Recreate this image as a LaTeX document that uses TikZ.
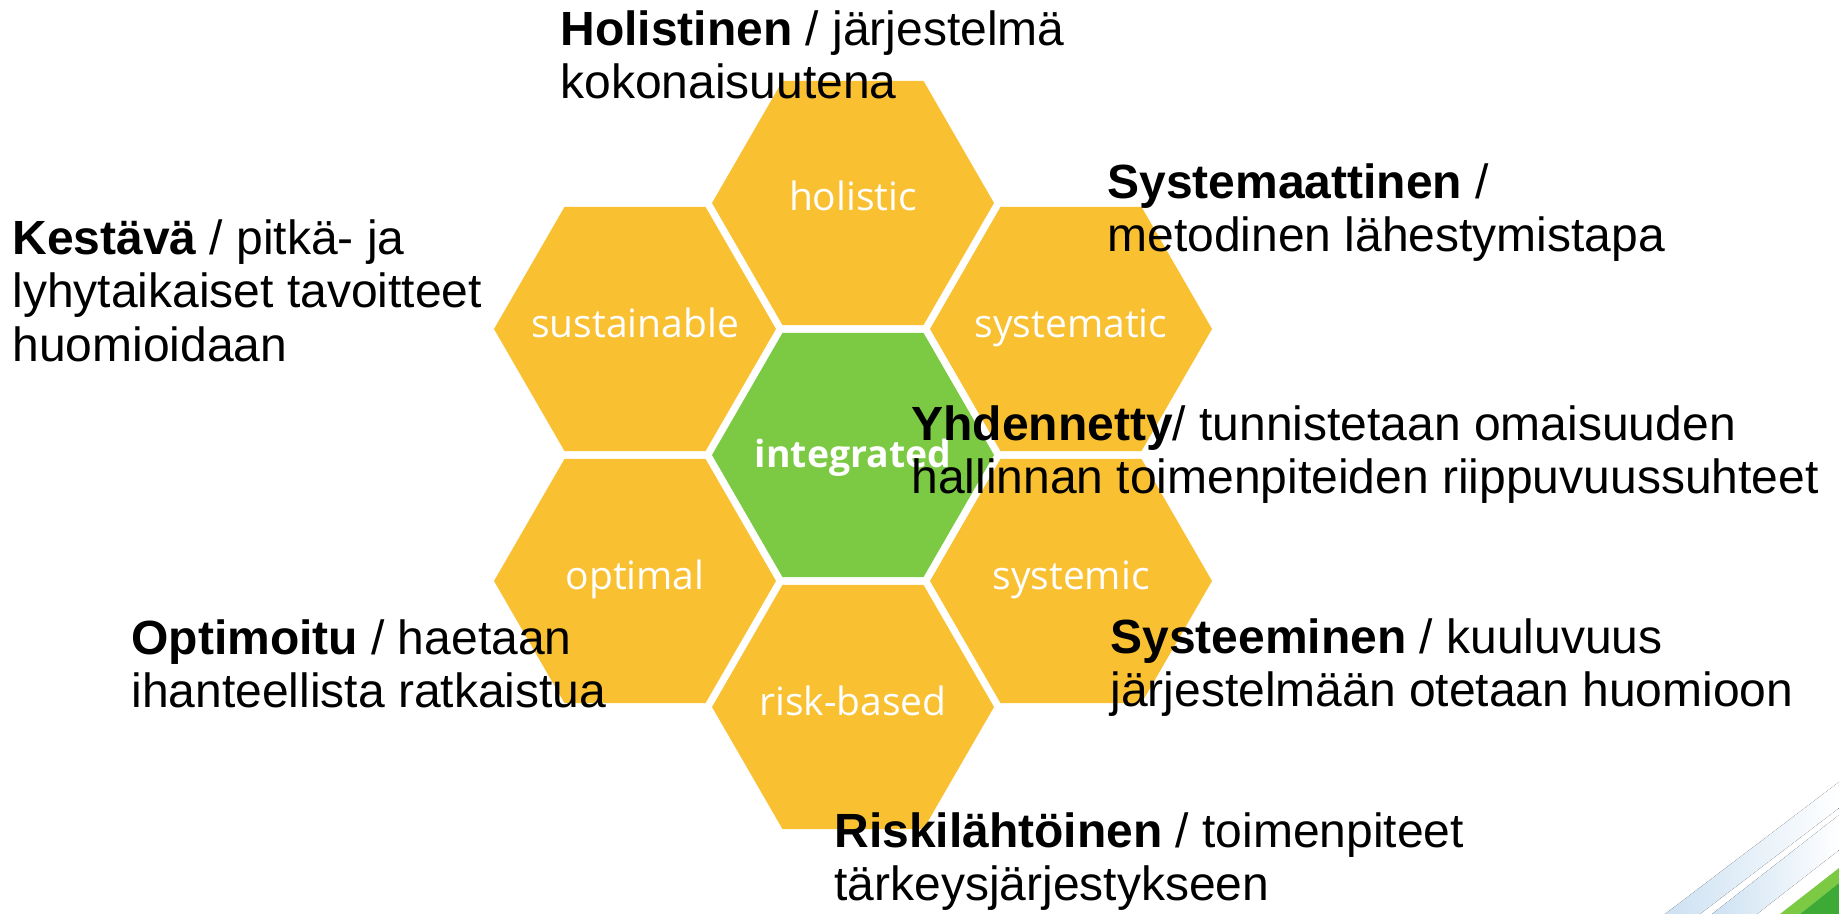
\documentclass[tikz,border=0pt]{standalone}
\usepackage{fontspec}
\setmainfont{Liberation Sans}
\newfontfamily\hexfont{Open Sans}
\usetikzlibrary{shapes.geometric}

\definecolor{honey}{RGB}{249,192,50}
\definecolor{leaf}{RGB}{124,201,68}
\definecolor{leafdark}{RGB}{61,170,53}
\definecolor{mist}{RGB}{205,225,242}

\tikzset{
  hexbox/.style={regular polygon, regular polygon sides=6, minimum size=141pt,
    inner sep=0pt, outer sep=0pt, fill=honey},
  corebox/.style={hexbox, fill=leaf},
  hexword/.style={anchor=base, inner sep=0pt, text=white,
    font=\hexfont\fontsize{19.5}{22}\selectfont},
  coreword/.style={hexword, font=\hexfont\bfseries\fontsize{18.7}{22}\selectfont},
  note/.style={anchor=north west, inner sep=0pt, align=left,
    font=\fontsize{24}{26.8}\selectfont},
}

\begin{document}
\begin{tikzpicture}[x=0.5pt,y=-0.5pt]
\useasboundingbox (0,0) rectangle (1839,914);

\fill[left color=mist, right color=white] (1665,914) -- (1700,914) -- (1839,808) -- (1839,782) -- cycle;
\fill[left color=mist, right color=white] (1712,914) -- (1757,914) -- (1839,850) -- (1839,815) -- cycle;
\fill[leaf] (1780,914) -- (1800,914) -- (1839,883) -- (1839,868) -- cycle;
\fill[leafdark] (1800,914) -- (1839,914) -- (1839,883) -- cycle;

\node[corebox] (integrated) at (853,455) {};
\node[coreword] (integrated-word) at (853,467) {integrated};
\foreach \name/\x/\y/\word in {holistic/853/203/holistic,
  systematic/1071/329/systematic, systemic/1071/581/systemic,
  riskbased/853/707/risk-based, optimal/635/581/optimal,
  sustainable/635/329/sustainable}
{
\node[hexbox] (\name) at (\x,\y) {};
\node[hexword] (\name-word) at (\x,\y+8) {\word};
}

\node[note] (holistinen) at (560,10) {\textbf{Holistinen} / järjestelmä\\kokonaisuutena};
\node[note] (kestava) at (12,219) {\textbf{Kestävä} / pitkä- ja\\lyhytaikaiset tavoitteet\\huomioidaan};
\node[note] (systemaattinen) at (1107,163) {\textbf{Systemaattinen} /\\metodinen lähestymistapa};
\node[note] (yhdennetty) at (911,405) {\textbf{Yhdennetty}/ tunnistetaan omaisuuden\\hallinnan toimenpiteiden riippuvuussuhteet};
\node[note] (optimoitu) at (131,619) {\textbf{Optimoitu} / haetaan\\ihanteellista ratkaistua};
\node[note] (systeeminen) at (1110,618) {\textbf{Systeeminen} / kuuluvuus\\järjestelmään otetaan huomioon};
\node[note] (riskilahtoinen) at (834,812) {\textbf{Riskilähtöinen} / toimenpiteet\\tärkeysjärjestykseen};
\end{tikzpicture}
\end{document}
